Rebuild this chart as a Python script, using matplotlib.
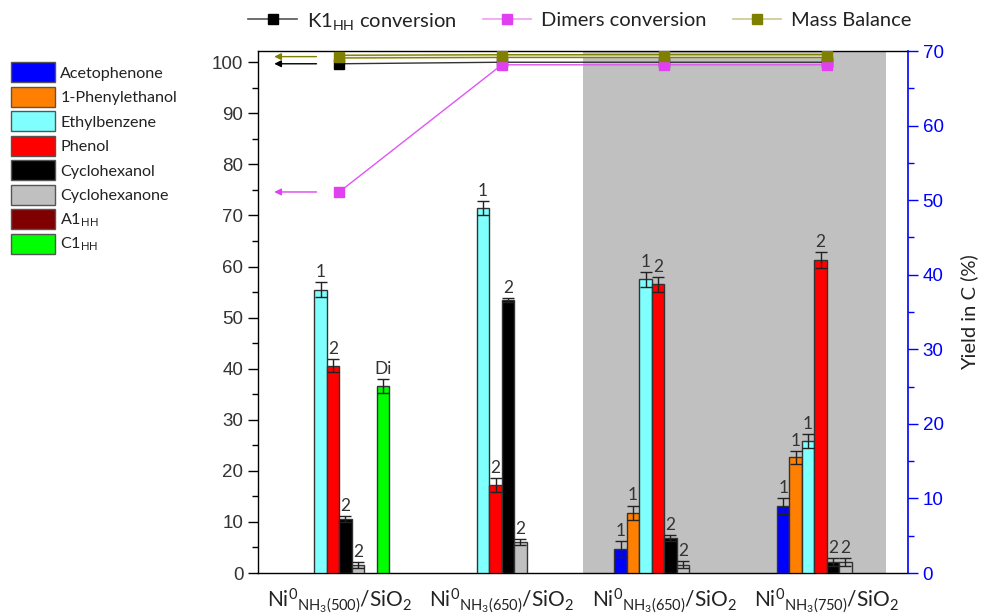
import numpy as np
import matplotlib
matplotlib.use("Agg")
import matplotlib.pyplot as plt
from matplotlib.patches import Patch
from matplotlib.lines import Line2D
from matplotlib.ticker import MultipleLocator
import matplotlib.patheffects as pe

plt.rcParams['font.family'] = ['Lato', 'DejaVu Sans']
plt.rcParams['mathtext.fontset'] = 'custom'
plt.rcParams['mathtext.rm'] = 'Lato'
plt.rcParams['mathtext.it'] = 'Lato'

# ---- data -------------------------------------------------------------
catalysts = [r"Ni$^{0}$$_{\mathrm{NH_3(500)}}$/SiO$_2$",
             r"Ni$^{0}$$_{\mathrm{NH_3(650)}}$/SiO$_2$",
             r"Ni$^{0}$$_{\mathrm{NH_3(650)}}$/SiO$_2$",
             r"Ni$^{0}$$_{\mathrm{NH_3(750)}}$/SiO$_2$"]

products = ["Acetophenone", "1-Phenylethanol", "Ethylbenzene", "Phenol",
            "Cyclohexanol", "Cyclohexanone", r"A1$_{\mathrm{HH}}$", r"C1$_{\mathrm{HH}}$"]
product_colors = ["#0000ff", "#ff8000", "#80ffff", "#ff0000",
                  "#000000", "#c0c0c0", "#800000", "#00ff00"]
product_tags = ["1", "1", "1", "2", "2", "2", "", "Di"]

# yields in C (%) per catalyst; None = not detected
acetophenone = [None, None, 3.2, 9.0]
phenylethanol = [None, None, 8.1, 15.5]
ethylbenzene = [38.0, 48.9, 39.4, 17.7]
phenol = [27.8, 11.8, 38.7, 42.0]
cyclohexanol = [7.2, 36.6, 4.7, 1.5]
cyclohexanone = [1.1, 4.1, 1.1, 1.5]
a1hh = [None, None, None, None]
c1hh = [25.1, None, None, None]

acetophenone_err = [None, None, 1.1, 1.1]
phenylethanol_err = [None, None, 0.95, 0.9]
ethylbenzene_err = [1.0, 0.95, 1.0, 0.95]
phenol_err = [0.9, 0.9, 1.0, 1.1]
cyclohexanol_err = [0.4, 0.3, 0.45, 0.5]
cyclohexanone_err = [0.4, 0.4, 0.45, 0.5]
a1hh_err = [None, None, None, None]
c1hh_err = [0.95, None, None, None]

# conversions and mass balance (%)
k1hh_conversion = [99.7, 100.0, 100.0, 100.0]
dimers_conversion = [74.6, 99.5, 99.5, 99.5]
mass_balance = [101.1, 101.2, 101.2, 101.2]

yields = [acetophenone, phenylethanol, ethylbenzene, phenol,
          cyclohexanol, cyclohexanone, a1hh, c1hh]
yield_errs = [acetophenone_err, phenylethanol_err, ethylbenzene_err, phenol_err,
              cyclohexanol_err, cyclohexanone_err, a1hh_err, c1hh_err]

# ---- figure -----------------------------------------------------------
fig = plt.figure(figsize=(9.84, 6.15), dpi=100)
ax = fig.add_axes([258 / 984, 1 - 573 / 615, 650 / 984, 522 / 615])
ax2 = ax.twinx()

x = np.arange(1, len(catalysts) + 1)
bw = 0.0767
n = len(products)

# shaded region for the last two catalysts
ax.axvspan(2.5, 4.365, color="#c0c0c0", lw=0, zorder=0)

for i, (vals, errs) in enumerate(zip(yields, yield_errs)):
    offs = (i - (n - 1) / 2) * bw
    for j, (v, e) in enumerate(zip(vals, errs)):
        if v is None:
            continue
        xp = x[j] + offs
        ax2.bar(xp, v, width=bw, color=product_colors[i], edgecolor="#333333",
                linewidth=1.0, zorder=2)
        ax2.errorbar(xp, v, yerr=e, fmt="none", ecolor="#222222",
                     elinewidth=1.0, capsize=4.5, capthick=1.0, zorder=3)
        ax2.annotate(product_tags[i], (xp, v + e), xytext=(0, 1.5),
                     textcoords="offset points", ha="center", va="bottom",
                     fontsize=12.5, color="#333333", zorder=4)

# conversion / mass balance lines
ax.plot(x, k1hh_conversion, color="#333333", lw=1.0, marker="s", ms=7.5,
        mfc="#000000", mec="#000000", zorder=5)
ax.plot(x, dimers_conversion, color="#e055f5", lw=1.0, marker="s", ms=7.5,
        mfc="#e040f0", mec="#e040f0", zorder=6)
ax.plot(x, mass_balance, color="#f4f4e0", lw=0.9, zorder=7,
        path_effects=[pe.Stroke(linewidth=3.0, foreground="#808000"), pe.Normal()])
ax.plot(x, mass_balance, ls="none", marker="s", ms=7.5,
        mfc="#808000", mec="#808000", zorder=8)

# arrows pointing to the conversion axis
for series, col in [(mass_balance, "#808000"), (k1hh_conversion, "#000000"),
                    (dimers_conversion, "#e040f0")]:
    ax.annotate("", xy=(0.6, series[0]), xytext=(0.86, series[0]),
                arrowprops=dict(arrowstyle="-|>", color=col, lw=1.0,
                                mutation_scale=10, shrinkA=0, shrinkB=0),
                zorder=9, annotation_clip=False)

# axes styling
ax.set_xlim(0.5, 4.5)
ax.set_ylim(0, 102.2)
ax2.set_ylim(0, 70)
ax.set_xticks(x)
ax.set_xticklabels(catalysts, fontsize=15, color="#222222")
ax.tick_params(axis="x", length=0, pad=10)

ax.yaxis.set_major_locator(MultipleLocator(10))
ax.yaxis.set_minor_locator(MultipleLocator(5))
ax.tick_params(axis="y", which="major", length=7, width=1, labelsize=13.5,
               labelcolor="#333333", direction="out")
ax.tick_params(axis="y", which="minor", length=4, width=1, direction="out")
for lbl in ax.get_yticklabels():
    lbl.set_family("Liberation Sans")

ax2.yaxis.set_major_locator(MultipleLocator(10))
ax2.yaxis.set_minor_locator(MultipleLocator(5))
ax2.tick_params(axis="y", which="major", length=7, width=1, labelsize=13.5,
                colors="#0000ff", direction="out")
ax2.tick_params(axis="y", which="minor", length=4, width=1, colors="#0000ff",
                direction="out")
for lbl in ax2.get_yticklabels():
    lbl.set_family("Liberation Sans")
ax2.set_ylabel("Yield in C (%)", fontsize=14.5, color="#222222", labelpad=12)

ax.spines["right"].set_visible(False)
ax2.spines["right"].set_color("#0000ff")
ax2.spines["right"].set_linewidth(1.2)
ax2.spines["left"].set_visible(False)
for s in ["top", "bottom", "left"]:
    ax.spines[s].set_color("#000000")
    ax.spines[s].set_linewidth(1.0)
ax2.spines["top"].set_visible(False)
ax2.spines["bottom"].set_visible(False)

# legends
line_handles = [
    Line2D([], [], color="#555555", lw=1.2, marker="s", ms=6.5, mfc="#000000", mec="#000000"),
    Line2D([], [], color="#f0a0f0", lw=1.2, marker="s", ms=6.5, mfc="#e040f0", mec="#e040f0"),
    Line2D([], [], color="#c8c890", lw=1.2, marker="s", ms=6.5, mfc="#808000", mec="#808000"),
]
line_labels = [r"K1$_{\mathrm{HH}}$ conversion", "Dimers conversion", "Mass Balance"]
fig.legend(line_handles, line_labels, loc="center", bbox_to_anchor=(580 / 984, 1 - 21 / 615),
           ncol=3, frameon=False, fontsize=14.5, handlelength=2.4, columnspacing=1.3,
           handletextpad=0.5, labelcolor="#222222")

patch_handles = [Patch(facecolor=c, edgecolor="#555555", linewidth=1.0) for c in product_colors]
fig.legend(patch_handles, products, loc="upper left", bbox_to_anchor=(-4 / 984, 1 - 48 / 615),
           frameon=False, fontsize=11.6, handlelength=2.75, handleheight=1.5,
           labelspacing=0.3, handletextpad=0.35, labelcolor="#222222")

fig.savefig("out.png", dpi=100)
